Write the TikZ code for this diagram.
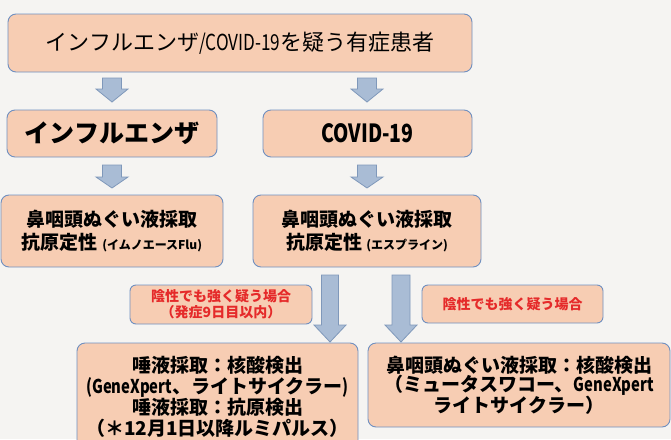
\documentclass[tikz,border=0pt]{standalone}
\usepackage{fontspec}
\setmainfont{Noto Sans CJK JP}
\newfontfamily\narrowfont[FakeStretch=0.78]{Noto Sans CJK JP}
\definecolor{boxfill}{HTML}{F7CDB3}
\definecolor{boxline}{HTML}{6F8FC0}
\definecolor{arrfill}{HTML}{A9BCD5}
\definecolor{arrline}{HTML}{7F98BA}
\definecolor{redtxt}{HTML}{E52A2A}
\definecolor{paper}{HTML}{F5F4F2}
\tikzset{
  box/.style={draw=boxline, line width=0.9pt, fill=boxfill, rounded corners=8pt, align=center, inner sep=0pt},
  lab/.style={box, rounded corners=6pt, text=redtxt, font=\fontsize{14}{16}\selectfont\bfseries},
  arrowshape/.style={draw=arrline, fill=arrfill, line width=0.8pt, line join=miter}
}
\newcommand\blockarrow[6]{%
  \filldraw[arrowshape] (#1-#5,#2) -- (#1+#5,#2) -- (#1+#5,#3) -- (#1+#6,#3) -- (#1,#4) -- (#1-#6,#3) -- (#1-#5,#3) -- cycle;}
\begin{document}
\begin{tikzpicture}[x=1pt,y=-1pt]
\useasboundingbox (0,0) rectangle (671,439);
\clip (0,0) rectangle (671,439);
\fill[paper] (0,0) rectangle (671,439);

\node[box, minimum width=464pt, minimum height=58pt, font=\fontsize{22}{24}\selectfont] (top) at (240,43)
  {インフルエンザ{\narrowfont /COVID-19}を疑う有症患者};

\node[box, minimum width=210pt, minimum height=47pt, font=\fontsize{25}{28}\selectfont\bfseries] (flu) at (112,133.5)
  {インフルエンザ};
\node[box, minimum width=209pt, minimum height=47pt, font=\fontsize{25}{28}\selectfont\bfseries] (cov) at (367.5,133.5)
  {\narrowfont COVID-19};

\node[box, minimum width=222pt, minimum height=72pt, font=\fontsize{19}{23}\selectfont\bfseries] (flut) at (112,231)
  {鼻咽頭ぬぐい液採取\\抗原定性 {\fontsize{12}{12}\selectfont (イムノエースFlu)}};
\node[box, minimum width=228pt, minimum height=72pt, font=\fontsize{19}{23}\selectfont\bfseries] (covt) at (367,231)
  {鼻咽頭ぬぐい液採取\\抗原定性 {\fontsize{12}{12}\selectfont (エスプライン)}};

\node[lab, minimum width=182pt, minimum height=39pt] (lab1) at (221,304.5)
  {陰性でも強く疑う場合\\（発症9日目以内）};
\node[lab, minimum width=181pt, minimum height=38pt] (lab2) at (512.5,304)
  {陰性でも強く疑う場合};

\node[box, minimum width=281pt, minimum height=108pt, font=\fontsize{19}{21}\selectfont\bfseries] (bl) at (217.5,397)
  {唾液採取：核酸検出\\{\narrowfont (GeneXpert}、ライトサイクラー{\narrowfont )}\\唾液採取：抗原検出\\（＊12月1日以降ルミパルス）};
\node[box, minimum width=302pt, minimum height=84pt, font=\fontsize{19}{19}\selectfont\bfseries] (br) at (519,385)
  {鼻咽頭ぬぐい液採取：核酸検出\\（ミュータスワコー、{\narrowfont GeneXpert}\\ライトサイクラー）};

\blockarrow{112}{78}{89}{102}{9.5}{16}
\blockarrow{367}{78}{89}{102}{9.5}{16}
\blockarrow{112}{165}{177}{188}{9.5}{16}
\blockarrow{367}{165}{177}{188}{9.5}{16}
\blockarrow{330}{275}{325}{342}{8.5}{16}
\blockarrow{401}{275}{325}{342}{9}{16}
\end{tikzpicture}
\end{document}
